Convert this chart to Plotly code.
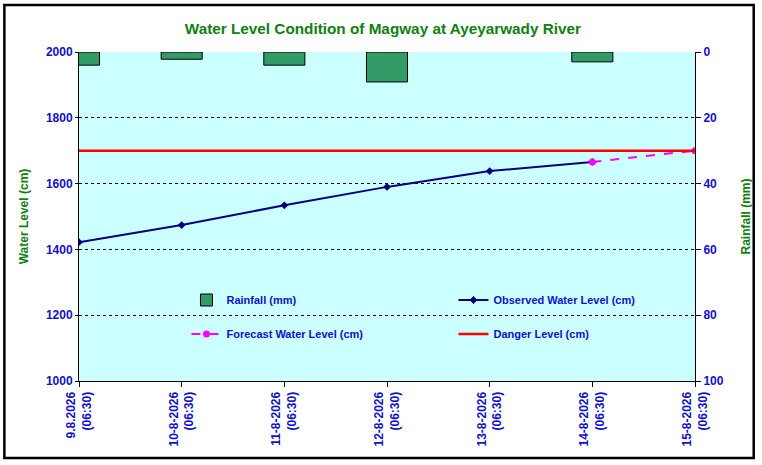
import plotly.graph_objects as go

# reading dates along the x axis
dates = ["9.8.2026", "10-8-2026", "11-8-2026", "12-8-2026",
         "13-8-2026", "14-8-2026", "15-8-2026"]
times = ["(06:30)"] * 7

# values
observed = [1422, 1474, 1534, 1590, 1638, 1666, None]   # cm
forecast = [None, None, None, None, None, 1666, 1700]   # cm
danger = [1700] * 7                                      # cm
rainfall = [4.0, 2.2, 4.0, 9.1, None, 3.0, None]        # mm

xpos = list(range(len(dates)))
ticktext = [f"{d}<br>{t}" for d, t in zip(dates, times)]

BLUE = "#1010C8"
GREEN = "#108010"
FONT = "Liberation Sans, Arial, sans-serif"

# plot area in pixels (used for margins and the outer frame)
W, H = 762, 465
L, R, T, B = 79, 698, 52, 381


def px_x(v):
    return (v - L) / (R - L)


def px_y(v):
    return (B - v) / (B - T)


fig = go.Figure()

fig.add_trace(go.Bar(
    x=xpos, y=rainfall, yaxis="y2", width=0.4, name="Rainfall (mm)",
    marker=dict(color="#339966", line=dict(color="black", width=1)),
    legend="legend",
))
fig.add_trace(go.Scatter(
    x=xpos, y=observed, mode="lines+markers", name="Observed Water Level (cm)",
    line=dict(color="#000080", width=2),
    marker=dict(symbol="diamond", size=6, color="#000080"),
    legend="legend",
))
fig.add_trace(go.Scatter(
    x=xpos, y=forecast, mode="lines+markers", name="Forecast Water Level (cm)",
    line=dict(color="#FF00FF", width=2, dash="dash"),
    marker=dict(symbol="circle", size=7, color="#FF00FF"),
    legend="legend2",
))
fig.add_trace(go.Scatter(
    x=xpos, y=danger, mode="lines", name="Danger Level (cm)",
    line=dict(color="#FF0000", width=2.5),
    legend="legend2",
))

legend_common = dict(
    orientation="h", bgcolor="rgba(0,0,0,0)", entrywidth=222,
    entrywidthmode="pixels", x=px_x(187), xanchor="left", yanchor="middle",
    font=dict(family=FONT, size=11, color=BLUE, weight="bold"),
)

fig.update_layout(
    width=W, height=H,
    margin=dict(l=L, r=W - R, t=T, b=H - B),
    paper_bgcolor="white", plot_bgcolor="#CCFFFF",
    title=dict(
        text="Water Level Condition of Magway at Ayeyarwady River",
        x=px_x(390), xanchor="center", y=1 - 29 / H, yanchor="middle",
        font=dict(family=FONT, size=15.3, color=GREEN, weight="bold"),
    ),
    showlegend=True,
    legend=dict(y=px_y(300), **legend_common),
    legend2=dict(y=px_y(334), **legend_common),
    xaxis=dict(
        range=[0, 6], tickvals=xpos, ticktext=ticktext, tickangle=-90,
        showgrid=False, zeroline=False,
        showline=True, linecolor="black", linewidth=1,
        ticks="outside", ticklen=5, tickcolor="black",
        tickfont=dict(family=FONT, size=12, color=BLUE, weight="bold"),
    ),
    yaxis=dict(
        range=[1000, 2000], dtick=200, zeroline=False,
        showgrid=True, gridcolor="black", gridwidth=1, griddash="dot",
        showline=True, linecolor="black", linewidth=1,
        ticks="outside", ticklen=3, tickcolor="black",
        tickfont=dict(family=FONT, size=12, color=BLUE, weight="bold"),
        title=dict(text="Water Level (cm)", standoff=14,
                   font=dict(family=FONT, size=12, color=GREEN, weight="bold")),
    ),
    yaxis2=dict(
        range=[100, 0], dtick=20, overlaying="y", side="right",
        showgrid=False, zeroline=False,
        showline=True, linecolor="black", linewidth=1,
        ticks="outside", ticklen=5, tickcolor="black",
        tickfont=dict(family=FONT, size=12, color=BLUE, weight="bold"),
        title=dict(text="Rainfall (mm)", standoff=18,
                   font=dict(family=FONT, size=12, color=GREEN, weight="bold")),
    ),
    shapes=[dict(
        type="rect", xref="paper", yref="paper", layer="above",
        x0=px_x(4), x1=px_x(757), y0=px_y(458), y1=px_y(5),
        line=dict(color="black", width=2.5), fillcolor="rgba(0,0,0,0)",
    )],
)

# drop the browser's default body margin so the chart sits at the page corner
fig.write_html("out.html", config={"displayModeBar": False},
               post_script="document.body.style.margin = '0';")
